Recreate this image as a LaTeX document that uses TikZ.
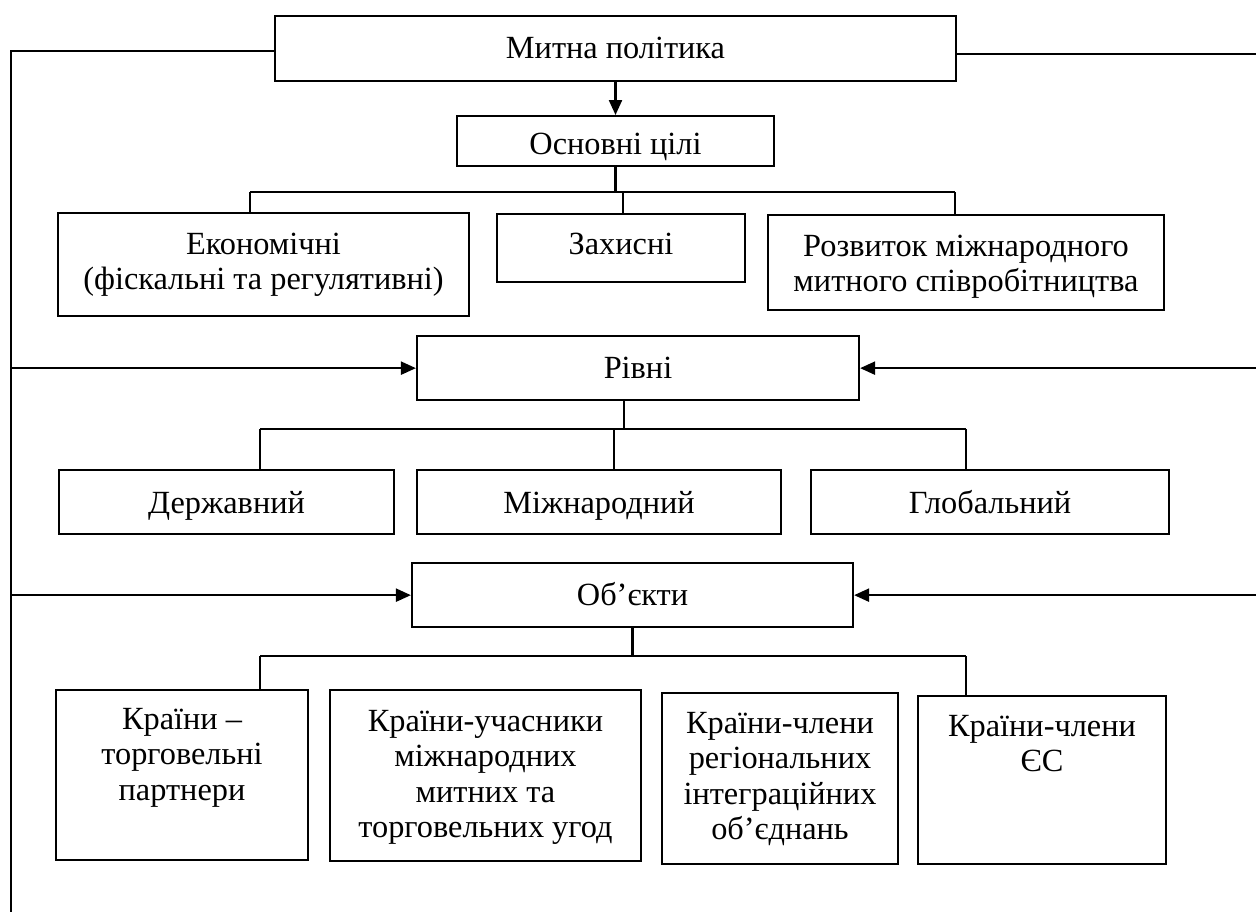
\documentclass[tikz,border=0pt]{standalone}
\usepackage{fontspec}
\setmainfont{Liberation Serif}
\usetikzlibrary{arrows.meta}

\begin{document}
\begin{tikzpicture}[x=0.02cm, y=-0.02cm, line width=1.3pt,
    box/.style={draw, rectangle, inner sep=0pt, align=center, anchor=north,
      font=\fontsize{18.4}{20.2}\selectfont},
    arr/.style={-{Triangle[length=0.3cm, width=0.26cm]}}]
  \useasboundingbox (0,0) rectangle (1256,917);

  \node[box, minimum width=13.62cm, text height=0.84cm, text depth=0.46cm] (polityka) at (615.5,15) {Митна політика};
  \node[box, minimum width=6.34cm, text height=0.76cm, text depth=0.24cm] (tsili) at (615.5,115) {Основні цілі};

  \node[box, minimum width=8.22cm, text height=1.53cm, text depth=0.53cm] (ekon) at (263.5,212) {Економічні\\(фіскальні та регулятивні)};
  \node[box, minimum width=4.96cm, text height=0.80cm, text depth=0.56cm] (zakh) at (621,213) {Захисні};
  \node[box, minimum width=7.92cm, text height=1.53cm, text depth=0.37cm] (rozv) at (966,214) {Розвиток міжнародного\\митного співробітництва};

  \node[box, minimum width=8.84cm, text height=0.84cm, text depth=0.44cm] (rivni) at (638,335) {Рівні};
  \node[box, minimum width=6.70cm, text height=0.86cm, text depth=0.42cm] (derzh) at (226.5,469) {Державний};
  \node[box, minimum width=7.28cm, text height=0.86cm, text depth=0.42cm] (mizhn) at (599,469) {Міжнародний};
  \node[box, minimum width=7.16cm, text height=0.86cm, text depth=0.42cm] (glob) at (990,469) {Глобальний};

  \node[box, minimum width=8.82cm, text height=0.84cm, text depth=0.44cm] (obiekty) at (632.5,562) {Об’єкти};
  \node[box, minimum width=5.04cm, text height=2.20cm, text depth=1.20cm] (partn) at (182,689) {Країни –\\торговельні\\партнери};
  \node[box, minimum width=6.22cm, text height=2.95cm, text depth=0.47cm] (uchasn) at (485.5,689) {Країни-учасники\\міжнародних\\митних та\\торговельних угод};
  \node[box, minimum width=4.72cm, text height=2.93cm, text depth=0.49cm] (region) at (780,692) {Країни-члени\\регіональних\\інтеграційних\\об’єднань};
  \node[box, minimum width=4.96cm, text height=1.51cm, text depth=1.85cm] (es) at (1042,695) {Країни-члени\\ЄС};

  % goals
  \draw[arr] (polityka) -- (tsili);
  \coordinate (t-l) at (250,192);
  \coordinate (t-m) at (623,192);
  \coordinate (t-r) at (955,192);
  \draw (tsili.south) -- (tsili.south |- t-l);
  \draw (t-l) -- (t-r);
  \draw (t-l) -- (t-l |- ekon.north);
  \draw (t-m) -- (t-m |- zakh.north);
  \draw (t-r) -- (t-r |- rozv.north);

  % levels
  \coordinate (r-c) at (624,429);
  \coordinate (r-l) at (260,429);
  \coordinate (r-m) at (614,429);
  \coordinate (r-r) at (966,429);
  \draw (r-c |- rivni.south) -- (r-c);
  \draw (r-l) -- (r-r);
  \draw (r-l) -- (r-l |- derzh.north);
  \draw (r-m) -- (r-m |- mizhn.north);
  \draw (r-r) -- (r-r |- glob.north);

  % objects
  \coordinate (o-l) at (260,656);
  \coordinate (o-r) at (966,656);
  \draw (obiekty.south) -- (obiekty.south |- o-l);
  \draw (o-l) -- (o-r);
  \draw (o-l) -- (o-l |- partn.north);
  \draw (o-r) -- (o-r |- es.north);

  % frame
  \coordinate (f-lt) at (11,51);
  \coordinate (f-lb) at (11,912);
  \coordinate (f-rt) at (1256,54);
  \draw (polityka.west |- f-lt) -- (f-lt) -- (f-lb);
  \draw (polityka.east |- f-rt) -- (f-rt);
  \draw[arr] (f-lt |- rivni) -- (rivni);
  \draw[arr] (f-lt |- obiekty) -- (obiekty);
  \draw[arr] (f-rt |- rivni) -- (rivni);
  \draw[arr] (f-rt |- obiekty) -- (obiekty);
\end{tikzpicture}
\end{document}
